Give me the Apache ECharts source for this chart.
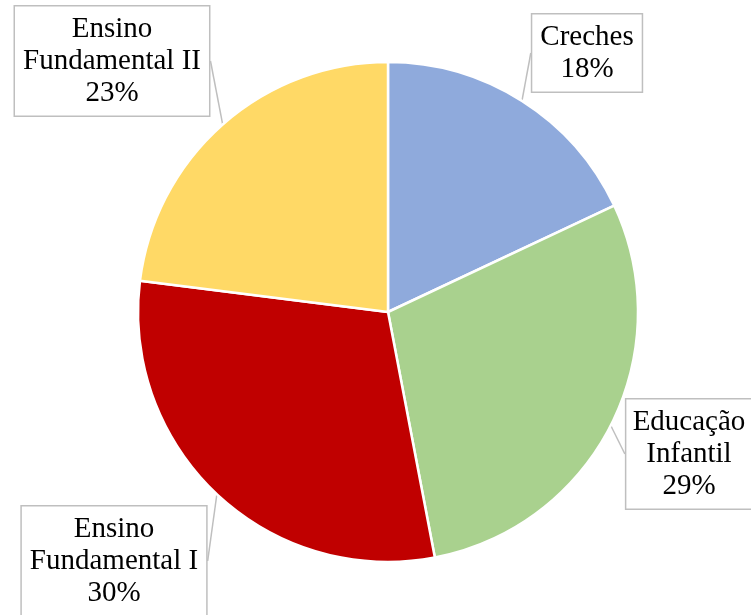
<!DOCTYPE html>
<html><head><meta charset="utf-8">
<script src="https://cdn.jsdelivr.net/npm/echarts@6/dist/echarts.min.js"></script>
<style>html,body{margin:0;padding:0;background:#fff}#c{width:751px;height:615px}</style>
</head><body><div id="c"></div>
<script>
const categories = ['Creches', 'Educação\nInfantil', 'Ensino\nFundamental I', 'Ensino\nFundamental II'];
const values = [18, 29, 30, 23];
const colors = ['#8FAADC', '#A9D18E', '#C00000', '#FFD966'];
const labelPos = [[587, 53], [689, 454], [114, 561], [112, 61]];

const chart = echarts.init(document.getElementById('c'), null, {renderer: 'canvas'});
chart.setOption({
  animation: false,
  series: [{
    type: 'pie',
    center: [388, 312],
    radius: [0, 250],
    startAngle: 90,
    clockwise: true,
    data: categories.map((n, i) => ({name: n, value: values[i], itemStyle: {color: colors[i]}})),
    itemStyle: {borderColor: '#fff', borderWidth: 2.5},
    label: {
      show: true,
      position: 'outside',
      overflow: 'none',
      formatter: p => p.name + '\n' + p.value + '%',
      fontFamily: 'Liberation Serif',
      fontSize: 29,
      lineHeight: 32,
      color: '#000',
      align: 'center',
      backgroundColor: '#fff',
      borderColor: '#BFBFBF',
      borderWidth: 1.5,
      padding: [7, 8, 6, 8]
    },
    labelLine: {show: true, length: 0, length2: 0, lineStyle: {color: '#BFBFBF', width: 1.5}},
    labelLayout: function (params) {
      const p = labelPos[params.dataIndex];
      return {x: p[0], y: p[1], align: 'center', verticalAlign: 'middle'};
    }
  }]
});
</script></body></html>
